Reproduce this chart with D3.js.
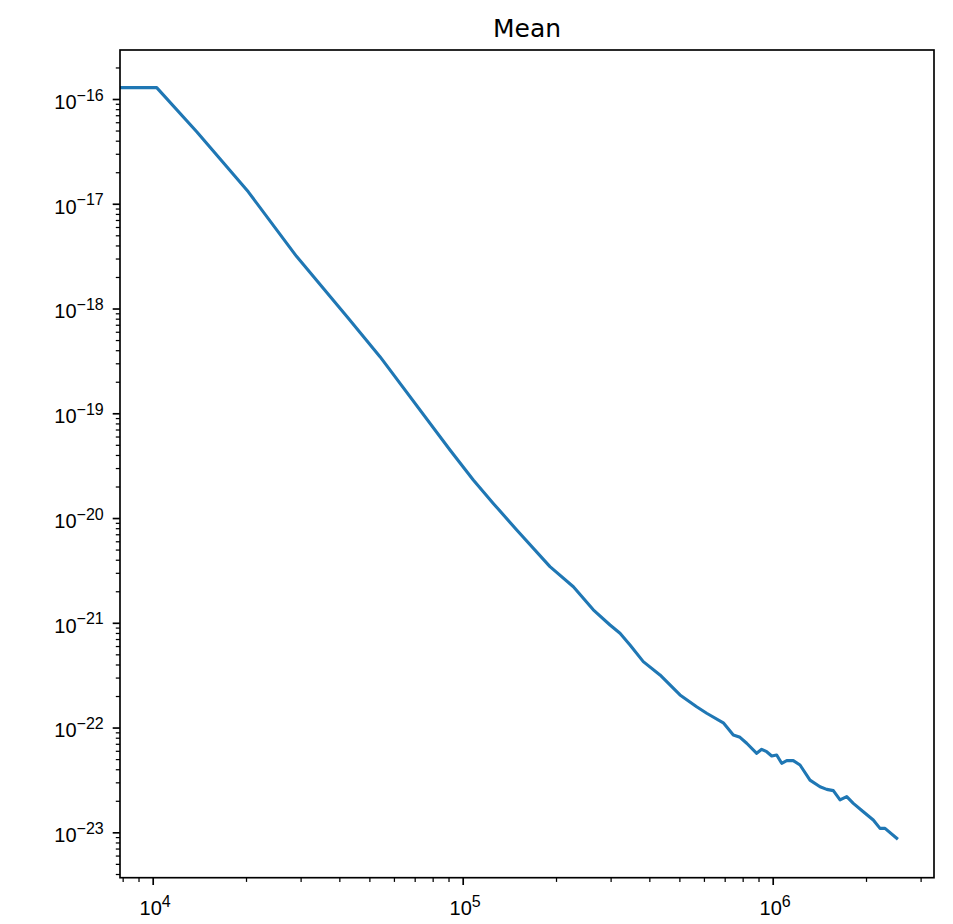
<!DOCTYPE html>
<html>
<head>
<meta charset="utf-8">
<script src="https://cdn.jsdelivr.net/npm/d3@7"></script>
<style>
  html, body { margin: 0; padding: 0; background: #fff; }
  svg { display: block; font-family: "DejaVu Sans", sans-serif; }
</style>
</head>
<body>
<div id="chart"></div>
<script>
// values (log-log, iteration vs mean)
const steps = [
  7844, 10302, 13868, 20340, 29140, 42760, 54100, 91000, 108200, 125500,
  149400, 191200, 227500, 263800, 298700, 321700, 346500, 382400, 432900, 502300,
  568400, 612400, 692900, 746300, 784400, 824400, 887900, 921500, 956300, 992600,
  1030000, 1069000, 1110000, 1165000, 1225000, 1319000, 1421000, 1494000, 1569000, 1649000,
  1733000, 1820000, 1960000, 2111000, 2219000, 2303000, 2512000
];
const meanValues = [
  1.283e-16, 1.283e-16, 4.87e-17, 1.30e-17, 3.13e-18, 8.07e-19, 3.47e-19, 4.46e-20, 2.31e-20, 1.38e-20,
  7.69e-21, 3.44e-21, 2.21e-21, 1.33e-21, 9.53e-22, 7.94e-22, 6.14e-22, 4.26e-22, 3.18e-22, 2.05e-22,
  1.58e-22, 1.37e-22, 1.11e-22, 8.49e-23, 8.07e-23, 7.08e-23, 5.68e-23, 6.20e-23, 5.88e-23, 5.35e-23,
  5.47e-23, 4.56e-23, 4.83e-23, 4.83e-23, 4.39e-23, 3.15e-23, 2.72e-23, 2.57e-23, 2.50e-23, 2.04e-23,
  2.19e-23, 1.89e-23, 1.57e-23, 1.31e-23, 1.09e-23, 1.09e-23, 8.77e-24
];
const xDecades = [4, 5, 6];
const yDecades = [-16, -17, -18, -19, -20, -21, -22, -23];
const title = "Mean";

const width = 953, height = 924;
const margin = { left: 120, right: 934, top: 50, bottom: 877.7 };
const tickFont = 20, supFont = 16;

const svg = d3.select("#chart").append("svg")
  .attr("width", width)
  .attr("height", height);

const x = d3.scaleLog()
  .domain([Math.pow(10, 3.89452), Math.pow(10, 6.52032)])
  .range([margin.left, margin.right]);
const y = d3.scaleLog()
  .domain([Math.pow(10, -15.53226), Math.pow(10, -23.4332)])
  .range([margin.top, margin.bottom]);

// log minor ticks 2..9 inside each decade
function minorTicks(scale) {
  const d = scale.domain();
  const lo = Math.min(d[0], d[1]), hi = Math.max(d[0], d[1]);
  const out = [];
  for (let e = Math.floor(Math.log10(lo)); e <= Math.ceil(Math.log10(hi)); e++) {
    for (let k = 2; k <= 9; k++) {
      const v = k * Math.pow(10, e);
      if (v >= lo && v <= hi) out.push(v);
    }
  }
  return out;
}

function supLabel(sel, exp) {
  sel.text(null);
  sel.append("tspan").text("10");
  sel.append("tspan")
    .attr("dy", -8.3)
    .style("font-size", supFont + "px")
    .text(String(exp).replace("-", "\u2212"));
}

// x axis
const gxMinor = svg.append("g")
  .attr("transform", `translate(0,${margin.bottom})`)
  .call(d3.axisBottom(x).tickValues(minorTicks(x)).tickSize(4.2).tickFormat(""));
gxMinor.selectAll(".tick line").attr("stroke-width", 1.25);

const gx = svg.append("g")
  .attr("transform", `translate(0,${margin.bottom})`)
  .call(d3.axisBottom(x).tickValues(xDecades.map(e => Math.pow(10, e))).tickSize(7.3));
gx.selectAll(".tick line").attr("stroke-width", 1.67);
gx.selectAll(".tick text")
  .attr("y", 37.3).attr("dy", 0).attr("x", 2)
  .style("font-size", tickFont + "px").attr("fill", "#000")
  .each(function(d, i) { supLabel(d3.select(this), xDecades[i]); });

// y axis
const gyMinor = svg.append("g")
  .attr("transform", `translate(${margin.left},0)`)
  .call(d3.axisLeft(y).tickValues(minorTicks(y)).tickSize(4.2).tickFormat(""));
gyMinor.selectAll(".tick line").attr("stroke-width", 1.25);

const gy = svg.append("g")
  .attr("transform", `translate(${margin.left},0)`)
  .call(d3.axisLeft(y).tickValues(yDecades.map(e => Math.pow(10, e))).tickSize(7.3).tickPadding(9));
gy.selectAll(".tick line").attr("stroke-width", 1.67);
gy.selectAll(".tick text")
  .attr("y", 9.3).attr("dy", 0)
  .style("font-size", tickFont + "px").attr("fill", "#000")
  .each(function(d, i) { supLabel(d3.select(this), yDecades[i]); });

svg.selectAll(".domain").remove();

// clip + line
svg.append("clipPath").attr("id", "plotclip")
  .append("rect").attr("x", margin.left).attr("y", margin.top)
  .attr("width", margin.right - margin.left).attr("height", margin.bottom - margin.top);

const pts = steps.map((s, i) => [s, meanValues[i]]);
svg.append("path")
  .datum(pts)
  .attr("clip-path", "url(#plotclip)")
  .attr("fill", "none")
  .attr("stroke", "#1f77b4")
  .attr("stroke-width", 3.1)
  .attr("stroke-linejoin", "round")
  .attr("stroke-linecap", "square")
  .attr("d", d3.line().x(d => x(d[0])).y(d => y(d[1])));

// frame
svg.append("rect")
  .attr("x", margin.left).attr("y", margin.top)
  .attr("width", margin.right - margin.left).attr("height", margin.bottom - margin.top)
  .attr("fill", "none").attr("stroke", "#000").attr("stroke-width", 1.67);

// title
svg.append("text")
  .attr("x", (margin.left + margin.right) / 2).attr("y", 36.7)
  .attr("text-anchor", "middle")
  .style("font-size", "25px")
  .attr("fill", "#000")
  .text(title);
</script>
</body>
</html>
